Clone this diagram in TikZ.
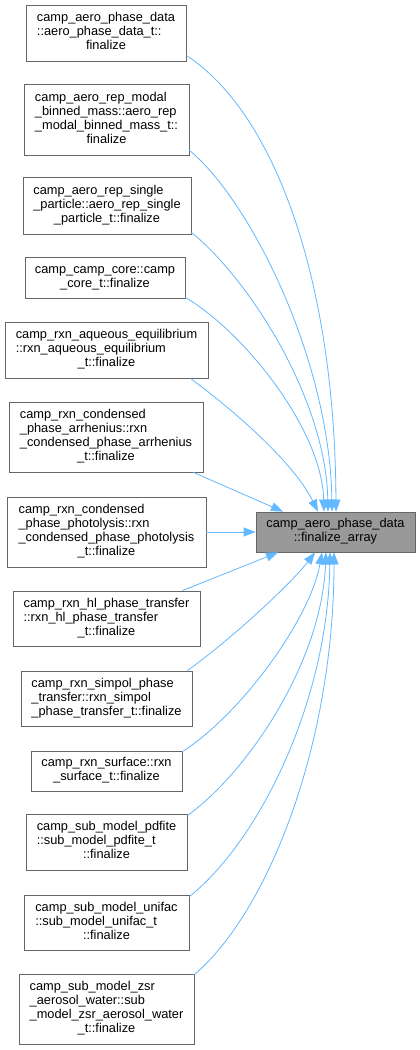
\documentclass[tikz,border=0pt]{standalone}
\usepackage{fontspec}
\setmainfont{Liberation Sans}
\usetikzlibrary{arrows.meta}
\definecolor{edgec}{HTML}{63B8FF}
\definecolor{boxd}{HTML}{666666}
\definecolor{tfill}{HTML}{999999}
\newcommand{\dlast}[1]{\multicolumn{1}{@{}c@{}}{#1}}
\newcommand{\dlines}[1]{\begin{tabular}{@{}l@{}}#1\end{tabular}}
\tikzset{
  box/.style={draw=boxd, line width=0.8pt, fill=white, inner sep=0pt, align=center},
  tbox/.style={box, fill=tfill},
  edge/.style={draw=edgec, line width=0.8pt, -{Triangle[length=12pt,width=9pt,fill=edgec]}}
}
\begin{document}
\begin{tikzpicture}[x=1pt,y=-1pt,font=\fontsize{12.8}{14}\selectfont]
\useasboundingbox[fill=white] (0,0) rectangle (420,1050);
\node[box, minimum width=160pt, minimum height=56pt] (b1) at (106,33)
  {\dlines{camp\_aero\_phase\_data\\::aero\_phase\_data\_t::\\\dlast{finalize}}};
\node[box, minimum width=165pt, minimum height=71pt] (b2) at (106.5,119.5)
  {\dlines{camp\_aero\_rep\_modal\\\_binned\_mass::aero\_rep\\\_modal\_binned\_mass\_t::\\\dlast{finalize}}};
\node[box, minimum width=168pt, minimum height=57pt] (b3) at (107,205.5)
  {\dlines{camp\_aero\_rep\_single\\\_particle::aero\_rep\_single\\\dlast{\_particle\_t::finalize}}};
\node[box, minimum width=160pt, minimum height=41pt] (b4) at (105,277.5)
  {\dlines{camp\_camp\_core::camp\\\dlast{\_core\_t::finalize}}};
\node[box, minimum width=203pt, minimum height=56pt] (b5) at (106.5,350)
  {\dlines{camp\_rxn\_aqueous\_equilibrium\\::rxn\_aqueous\_equilibrium\\\dlast{\_t::finalize}}};
\node[box, minimum width=194pt, minimum height=70pt] (b6) at (106,437)
  {\dlines{camp\_rxn\_condensed\\\_phase\_arrhenius::rxn\\\_condensed\_phase\_arrhenius\\\dlast{\_t::finalize}}};
\node[box, minimum width=199pt, minimum height=70pt] (b7) at (106.5,532)
  {\dlines{camp\_rxn\_condensed\\\_phase\_photolysis::rxn\\\_condensed\_phase\_photolysis\\\dlast{\_t::finalize}}};
\node[box, minimum width=187pt, minimum height=55pt] (b8) at (106.5,618.5)
  {\dlines{camp\_rxn\_hl\_phase\_transfer\\::rxn\_hl\_phase\_transfer\\\dlast{\_t::finalize}}};
\node[box, minimum width=171pt, minimum height=55pt] (b9) at (106.5,698.5)
  {\dlines{camp\_rxn\_simpol\_phase\\\_transfer::rxn\_simpol\\\dlast{\_phase\_transfer\_t::finalize}}};
\node[box, minimum width=151pt, minimum height=40pt] (b10) at (106.5,771)
  {\dlines{camp\_rxn\_surface::rxn\\\dlast{\_surface\_t::finalize}}};
\node[box, minimum width=161pt, minimum height=56pt] (b11) at (106.5,842)
  {\dlines{camp\_sub\_model\_pdfite\\::sub\_model\_pdfite\_t\\\dlast{::finalize}}};
\node[box, minimum width=165pt, minimum height=55pt] (b12) at (106.5,922.5)
  {\dlines{camp\_sub\_model\_unifac\\::sub\_model\_unifac\_t\\\dlast{::finalize}}};
\node[box, minimum width=175pt, minimum height=70pt] (b13) at (106.5,1009)
  {\dlines{camp\_sub\_model\_zsr\\\_aerosol\_water::sub\\\_model\_zsr\_aerosol\_water\\\dlast{\_t::finalize}}};
\node[tbox, minimum width=159pt, minimum height=40pt] (t) at (335.5,532)
  {\dlines{camp\_aero\_phase\_data\\\dlast{::finalize\_array}}};

\draw[edge] ([yshift=6pt]b1.south east) .. controls (276,114) and (335,283) .. ([xshift=0.5pt]t.north);
\draw[edge] ([yshift=5pt]b2.south east) .. controls (250,200) and (330,360) .. ([xshift=-3.5pt]t.north);
\draw[edge] ([yshift=2pt]b3.south east) .. controls (250,280) and (326,400) .. ([xshift=-7.5pt]t.north);
\draw[edge] ([yshift=1pt]b4.south east) .. controls (245,333) and (322,430) .. ([xshift=-11.5pt]t.north);
\draw[edge] ([xshift=-18pt]b5.south east) .. controls (240,415) and (295,465) .. ([xshift=-17.5pt]t.north);
\draw[edge] ([xshift=-10pt]b6.south east) -- ([xshift=-52.5pt]t.north);
\draw[edge] (b7.east) -- (t.west);
\draw[edge] ([xshift=-18pt]b8.north east) -- ([xshift=-57.5pt]t.south);
\draw[edge] ([xshift=-5pt]b9.north east) .. controls (230,640) and (290,585) .. ([xshift=-20.5pt]t.south);
\draw[edge] ([yshift=-1pt]b10.north east) .. controls (240,715) and (310,620) .. ([xshift=-13.5pt]t.south);
\draw[edge] ([yshift=-2pt]b11.north east) .. controls (250,770) and (322,660) .. ([xshift=-9.5pt]t.south);
\draw[edge] ([yshift=-2pt]b12.north east) .. controls (260,840) and (328,700) .. ([xshift=-5.5pt]t.south);
\draw[edge] ([yshift=-1pt]b13.north east) .. controls (270,910) and (334,740) .. ([xshift=-1.5pt]t.south);
\end{tikzpicture}
\end{document}
